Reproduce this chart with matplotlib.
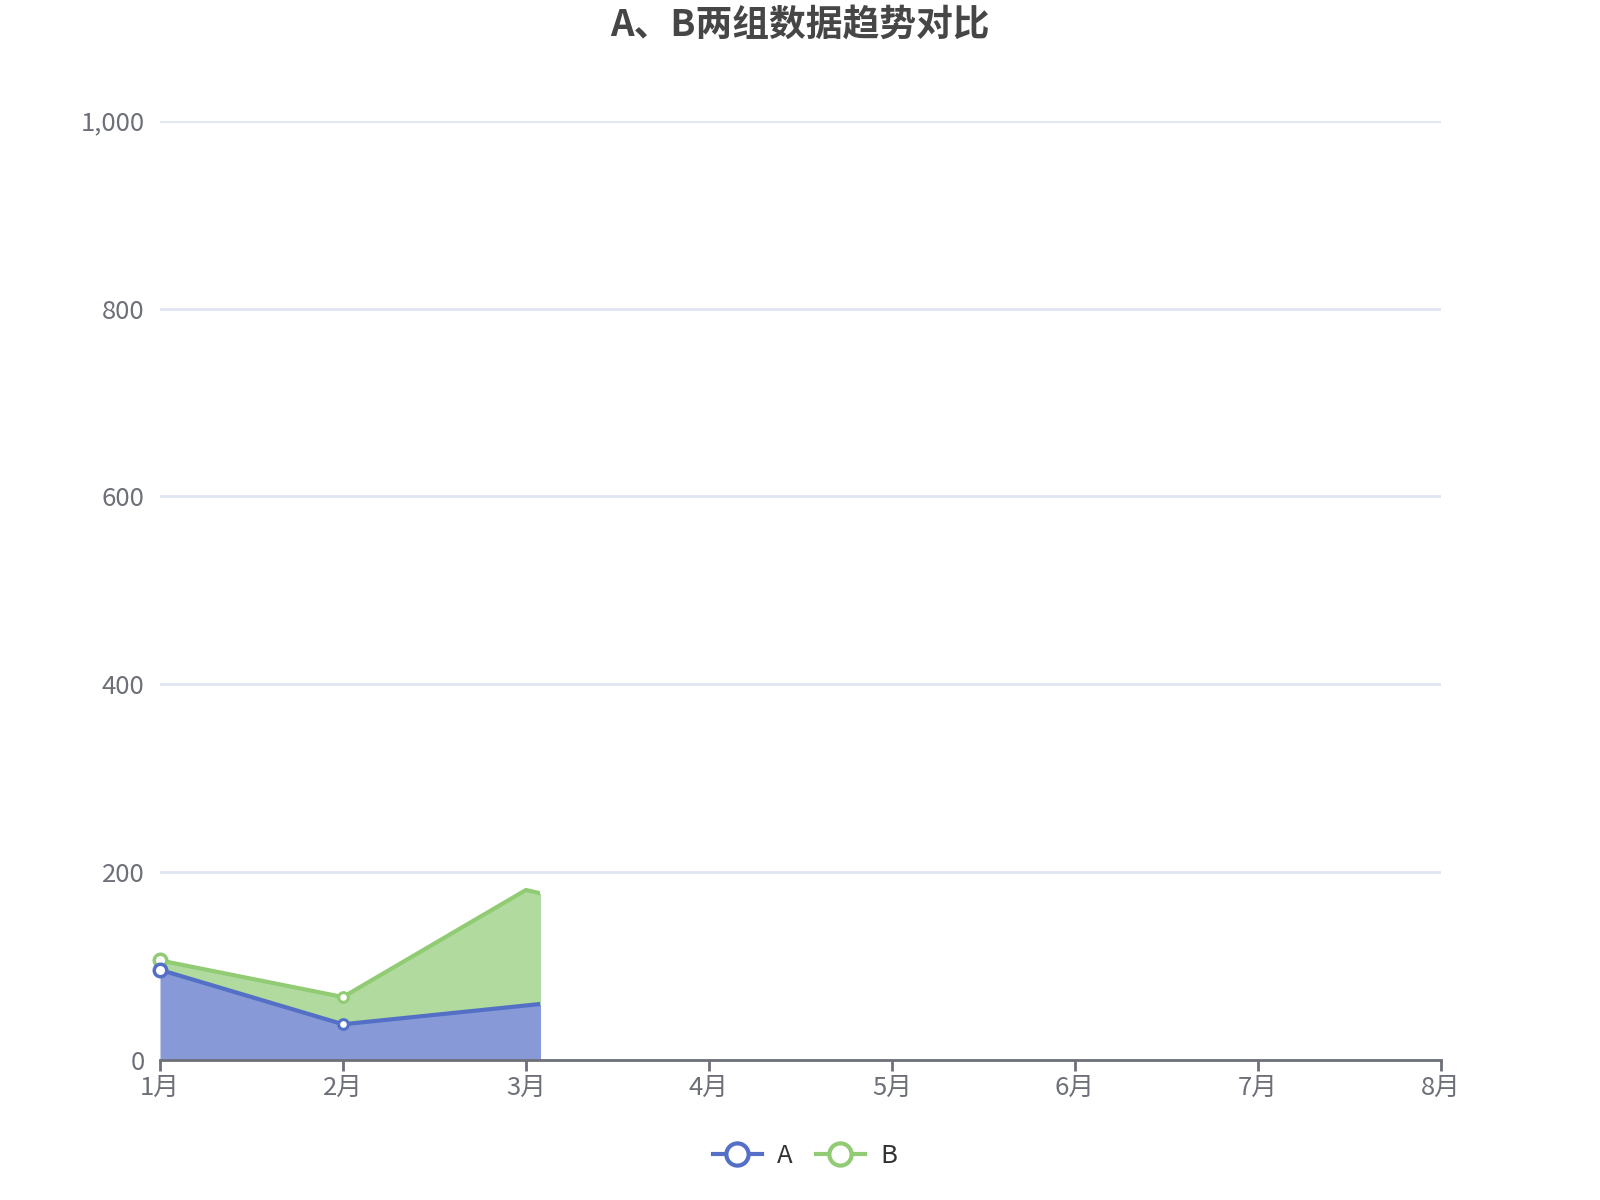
import numpy as np
import matplotlib
matplotlib.use('Agg')
import matplotlib.pyplot as plt
from matplotlib.lines import Line2D
from matplotlib.patches import Rectangle

plt.rcParams['font.family'] = ['Noto Sans CJK SC', 'DejaVu Sans']

title = 'A、B两组数据趋势对比'
months = ['1月', '2月', '3月', '4月', '5月', '6月', '7月', '8月']
# values (chart is caught mid-animation, only ~3 months drawn)
a_vals = [96, 38, 58, 78]
b_vals = [10, 29, 123, 57]
reveal = 2.076          # how far along the x axis the series are drawn
yticks = [0, 200, 400, 600, 800, 1000]

c_a, c_b = '#5470c6', '#91cc75'
grey = '#6e7079'

fig = plt.figure(figsize=(16, 12), dpi=100)
ax = fig.add_axes([0.1, 0.1167, 0.8006, 0.7827])

x = np.arange(len(a_vals))
a = np.array(a_vals, float)
ab = a + np.array(b_vals, float)

clip = Rectangle((0, 0), reveal, 1000, transform=ax.transData)

arts = []
arts.append(ax.fill_between(x, 0, a, color=c_a, alpha=0.7, lw=0, zorder=2))
arts.append(ax.fill_between(x, a, ab, color=c_b, alpha=0.7, lw=0, zorder=2))
arts += ax.plot(x, a, color=c_a, lw=3, zorder=3, solid_capstyle='butt')
arts += ax.plot(x, ab, color=c_b, lw=3, zorder=3, solid_capstyle='butt')
for art in arts:
    art.set_clip_path(clip)

# symbols that have already popped in
ax.plot(x[:1], ab[:1], 'o', ms=9, mfc='white', mec=c_b, mew=2.5, zorder=4, clip_on=False)
ax.plot(x[1:2], ab[1:2], 'o', ms=7, mfc='white', mec=c_b, mew=2.2, zorder=4)
ax.plot(x[:1], a[:1], 'o', ms=9, mfc='white', mec=c_a, mew=2.5, zorder=5, clip_on=False)
ax.plot(x[1:2], a[1:2], 'o', ms=7, mfc='white', mec=c_a, mew=2.2, zorder=5)

ax.set_xlim(0, len(months) - 1)
ax.set_ylim(0, 1000)
ax.set_xticks(np.arange(len(months)))
ax.set_xticklabels(months)
ax.set_yticks(yticks)
ax.set_yticklabels([f'{v:,}' for v in yticks])
ax.tick_params(axis='x', length=8, width=2, color=grey, labelcolor=grey,
               labelsize=18.5, pad=3)
ax.tick_params(axis='y', length=0, labelcolor=grey, labelsize=18.5, pad=11)

for s in ['top', 'right', 'left']:
    ax.spines[s].set_visible(False)
ax.spines['bottom'].set_color(grey)
ax.spines['bottom'].set_linewidth(2)
ax.spines['bottom'].set_zorder(6)
ax.grid(axis='y', color='#e0e6f1', lw=2)
ax.set_axisbelow(True)

fig.text(0.5, 0.979, title, ha='center', va='center', fontsize=26.5,
         fontweight='bold', color='#464646')

handles = [Line2D([], [], color=c, lw=3, marker='o', ms=16, mfc='white',
                  mec=c, mew=3) for c in (c_a, c_b)]
fig.legend(handles, ['A', 'B'], loc='center', bbox_to_anchor=(0.503, 0.037),
           ncol=2, frameon=False, fontsize=18.5, handlelength=1.9,
           handletextpad=0.6, columnspacing=0.9, labelcolor='#333333')

fig.savefig('out.png', dpi=100, facecolor='white')
